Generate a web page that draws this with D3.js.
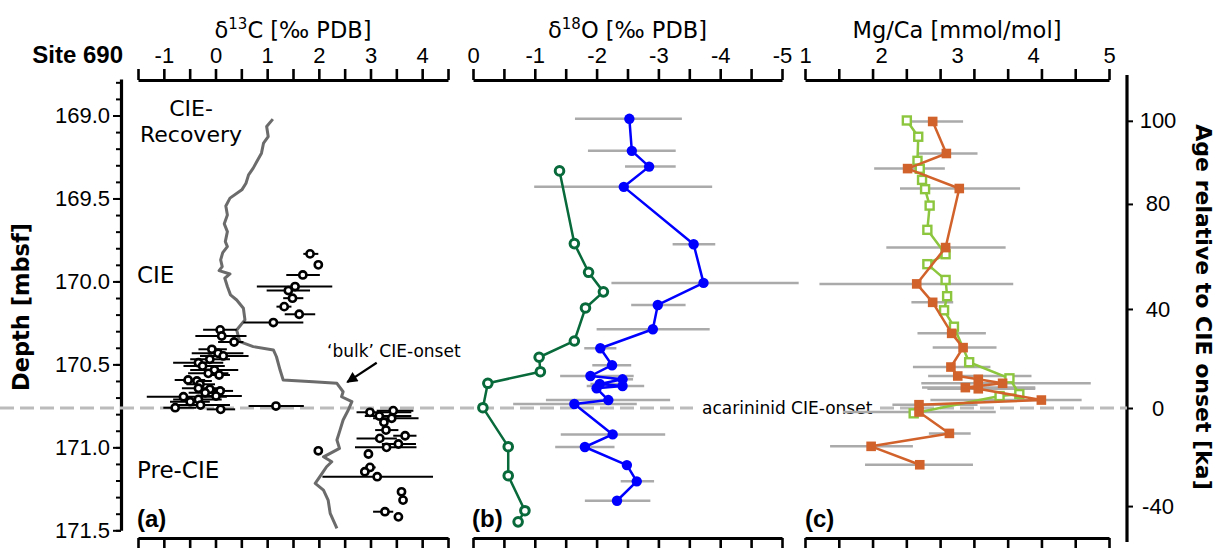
<!DOCTYPE html>
<html>
<head>
<meta charset="utf-8">
<script src="https://cdn.jsdelivr.net/npm/d3@7"></script>
<style>
  body { margin: 0; background: #fff; }
  text { font-family: "DejaVu Sans", sans-serif; fill: #000; }
  .tick text { font-family: "Liberation Sans", Arial, sans-serif; font-size: 22px; }
  .bold { font-family: "Liberation Sans", Arial, sans-serif; font-weight: bold; }
</style>
</head>
<body>
<svg id="chart" width="1219" height="548"></svg>
<script>
// ---- data ----
// (a) bulk carbonate d13C, grey line
const bulkDepth = [169.022,169.066,169.127,169.166,169.227,169.277,169.317,169.358,169.408,169.448,
  169.498,169.545,169.599,169.653,169.700,169.760,169.790,169.826,169.870,169.911,169.935,169.955,169.981,
  170.031,170.081,170.112,170.162,170.232,170.293,170.363,170.393,170.413,170.454,170.534,170.594,170.604,
  170.614,170.665,170.695,170.725,170.775,170.835,170.896,170.956,171.006,171.036,171.057,171.087,171.117,
  171.177,171.217,171.258,171.318,171.398,171.489];
const bulkD13C = [1.11,0.99,1.02,0.93,0.89,0.80,0.73,0.64,0.59,0.51,
  0.28,0.20,0.23,0.17,0.23,0.19,0.23,0.14,0.10,0.13,0.07,0.28,0.18,
  0.23,0.29,0.41,0.54,0.57,0.41,0.47,0.73,1.12,1.18,1.25,1.31,1.89,
  2.35,2.47,2.44,2.64,2.57,2.47,2.41,2.35,2.40,2.22,2.09,2.25,2.15,
  2.02,1.93,2.09,2.18,2.22,2.35];

// (a) single-specimen d13C, open black circles with 1 sd bars
const plankDepth = [169.834,169.900,169.961,170.031,170.055,170.101,170.152,170.198,170.248,170.292,
  170.329,170.365,170.409,170.433,170.449,170.469,170.490,170.510,170.534,170.554,170.564,170.594,
  170.600,170.620,170.644,170.650,170.660,170.671,170.695,170.691,170.711,170.725,170.745,170.761,
  170.771,170.751,170.789,170.779,170.811,170.825,170.849,170.896,170.946,170.930,171.000,170.980,
  171.040,171.021,171.121,171.147,171.177,171.268,171.318,171.388,171.419];
const plankD13C = [1.83,1.99,1.69,1.54,1.41,1.49,1.33,1.62,1.12,0.09,
  0.12,0.36,-0.07,0.05,0.15,-0.11,-0.33,-0.25,-0.02,-0.14,0.07,-0.53,
  -0.36,-0.30,-0.33,-0.11,0.09,-0.20,-0.62,0.01,-0.33,-0.49,-0.29,-0.78,
  0.10,1.17,2.99,3.44,3.17,3.41,3.26,3.30,3.18,3.67,3.31,3.54,
  2.96,1.99,2.99,2.89,3.13,3.60,3.63,3.28,3.54];
const plankLo = [1.70,1.93,1.37,0.80,0.99,1.31,1.18,1.34,0.54,-0.24,
  -0.39,0.05,-0.33,-0.46,-0.30,-0.49,-0.82,-0.62,-0.49,-0.53,-0.17,-0.79,
  -0.62,-0.56,-0.65,-0.40,-0.17,-0.52,-1.33,-0.30,-0.82,-0.88,-0.82,-1.01,
  -0.17,0.64,2.73,3.12,2.89,3.05,null,3.09,2.73,3.44,2.70,3.22,
  null,null,2.90,2.80,2.07,null,null,3.05,null];
const plankHi = [1.99,2.08,2.02,2.26,1.83,1.70,1.47,1.93,1.70,0.41,
  0.60,0.54,0.22,0.54,0.64,0.28,0.15,0.18,0.44,0.25,0.28,-0.20,
  -0.07,-0.01,0.05,0.18,0.34,0.12,0.22,0.51,0.12,-0.11,0.28,-0.37,
  0.38,1.71,3.79,3.83,3.79,3.93,null,3.54,3.51,3.89,3.89,3.88,
  null,null,3.10,2.98,4.21,null,null,3.44,null];

// (b) acarininid d18O (blue) with bars, benthic d18O (dark green)
const acarDepth = [169.020,169.213,169.308,169.430,169.776,170.009,170.142,170.288,170.403,170.505,
  170.570,170.590,170.618,170.630,170.644,170.715,170.739,170.922,170.998,171.107,171.205,171.322];
const acarD18O = [-2.53,-2.57,-2.85,-2.44,-3.57,-3.73,-2.99,-2.91,-2.06,-2.25,
  -1.90,-2.42,-2.05,-2.42,-2.00,-2.19,-1.64,-2.26,-1.81,-2.49,-2.65,-2.33];
const acarLo = [-1.65,-1.86,-2.46,-0.99,-3.23,-2.24,-2.56,-2.00,-1.80,-1.93,
  -1.41,-2.24,-1.90,-1.84,null,-1.18,-0.65,-1.42,-1.33,null,-2.39,-1.81];
const acarHi = [-3.38,-3.28,-3.28,-3.87,-3.92,-5.27,-3.44,-3.83,-2.32,-2.56,
  -2.60,-2.59,-2.40,-2.77,null,-3.19,-2.65,-3.11,-2.29,null,-2.93,-2.87];
const benthDepth = [169.334,169.772,169.945,170.063,170.160,170.359,170.457,170.544,170.614,170.761,
  170.996,171.171,171.382,171.449];
const benthD18O = [-1.40,-1.64,-1.87,-2.11,-1.82,-1.64,-1.07,-1.09,-0.24,-0.16,
  -0.57,-0.57,-0.84,-0.73];

// (c) Mg/Ca, orange with bars and light green
const mgDepth = [169.036,169.229,169.320,169.440,169.796,170.015,170.126,170.313,170.399,170.516,
  170.570,170.590,170.614,170.640,170.647,170.715,170.743,170.787,170.916,170.994,171.105];
const mgCa = [2.68,2.86,2.35,3.03,2.85,2.47,2.68,2.93,3.08,2.92,
  3.01,3.28,3.60,3.11,3.28,4.11,2.50,2.50,2.90,1.87,2.51];
const mgLo = [2.38,2.48,1.91,2.25,2.07,1.19,2.40,2.48,2.68,2.42,
  2.62,null,2.53,2.54,2.61,2.65,2.15,1.50,2.63,1.33,1.79];
const mgHi = [3.08,3.27,2.84,3.83,3.64,3.74,2.95,3.38,3.52,3.44,
  3.98,null,4.76,4.03,4.03,4.64,3.27,3.51,3.18,2.42,3.21];
const mg2Depth = [169.030,169.128,169.273,169.321,169.388,169.444,169.543,169.689,169.836,169.896,
  169.991,170.089,170.174,170.273,170.487,170.584,170.679,170.691,170.795];
const mg2Ca = [2.34,2.49,2.48,2.51,2.54,2.58,2.64,2.61,2.85,2.61,
  2.85,2.87,2.83,2.96,3.16,3.69,3.82,3.56,2.43];

// axes
const depthTicks = [169.0, 169.5, 170.0, 170.5, 171.0, 171.5];
const depthMinor = d3.range(1688, 1716).map(d => d / 10);
const ageTicks = [100, 80, 40, 0, -40];
const ageTieDepth = [169.032, 169.533, 170.166, 170.763, 171.354];
const onsetDepth = 170.763;
const aTicks = d3.range(-1.5, 4.51, 0.5), aLabels = [-1, 0, 1, 2, 3, 4];
const bTicks = d3.range(0, -5.01, -0.5), bLabels = [0, -1, -2, -3, -4, -5];
const cTicks = d3.range(10).map(i => 1 + i * 4 / 9), cLabels = [1, 2, 3, 4, 5];

const svg = d3.select("#chart");

const xA = d3.scaleLinear().domain([-1.5, 4.5]).range([138, 448]);
const xB = d3.scaleLinear().domain([0, -5]).range([473, 782]);
const xC = d3.scaleLinear().domain([1, 5]).range([805, 1109]);
const y = d3.scaleLinear().domain([168.78, 171.5]).range([79, 530.3]);
const yAge = d3.scaleLinear().domain(ageTicks).range(ageTieDepth.map(y));

const topY = 80, botY = 538;

function styleAxis(g, w) {
    g.select(".domain").attr("stroke-width", 3.2);
    g.selectAll(".tick line").attr("stroke-width", w);
}

function xAxes(scale, ticks, labels, title, sup, rest) {
    svg.append("g").attr("transform", `translate(0,${topY})`)
        .call(d3.axisTop(scale).tickValues(ticks).tickSize(11).tickSizeOuter(0).tickFormat(""))
        .call(g => styleAxis(g, 2.6));
    svg.append("g").attr("transform", `translate(0,${topY})`)
        .call(d3.axisTop(scale).tickValues(labels).tickSize(0).tickPadding(17).tickFormat(d => String(d)))
        .call(g => g.select(".domain").remove());
    svg.append("g").attr("transform", `translate(0,${botY})`)
        .call(d3.axisBottom(scale).tickValues(ticks).tickSize(11).tickSizeOuter(0).tickFormat(""))
        .call(g => styleAxis(g, 2.6));

    let r = scale.range();
    let t = svg.append("text").attr("x", (r[0] + r[1]) / 2).attr("y", 38)
        .attr("text-anchor", "middle").style("font-size", "22.5px");
    t.append("tspan").text(title);
    if (sup) {
        t.append("tspan").attr("dy", -9).style("font-size", "15px").text(sup);
        t.append("tspan").attr("dy", 9).text(rest);
    }
}

xAxes(xA, aTicks, aLabels, "δ", "13", "C [‰ PDB]");
xAxes(xB, bTicks, bLabels, "δ", "18", "O [‰ PDB]");
xAxes(xC, cTicks, cLabels, "Mg/Ca [mmol/mol]");

// depth axis
svg.append("g").attr("transform", "translate(121,0)")
    .call(d3.axisLeft(y).tickValues(depthMinor).tickSize(5).tickSizeOuter(0).tickFormat(""))
    .call(g => styleAxis(g, 2));
svg.append("g").attr("transform", "translate(121,0)")
    .call(d3.axisLeft(y).tickValues(depthTicks).tickSize(8).tickPadding(3).tickFormat(d3.format(".1f")))
    .call(g => g.select(".domain").remove())
    .call(g => g.selectAll(".tick line").attr("stroke-width", 2));

// age axis
svg.append("line").attr("x1", 1127).attr("x2", 1127).attr("y1", 75).attr("y2", 542)
    .attr("stroke", "#000").attr("stroke-width", 3.2);
svg.append("g").attr("transform", "translate(1127,0)")
    .call(d3.axisRight(yAge).tickValues(ageTicks).tickSize(6).tickPadding(0).tickSizeOuter(0)
        .tickFormat(d => String(d)))
    .call(g => g.select(".domain").remove())
    .call(g => g.selectAll(".tick line").attr("stroke-width", 2))
    .call(g => g.selectAll(".tick text").attr("text-anchor", "middle").attr("x", 31));

svg.append("text").attr("class", "bold").attr("x", 123).attr("y", 63)
    .attr("text-anchor", "end").style("font-size", "24px").text("Site 690");
svg.append("text").attr("transform", "translate(29,307) rotate(-90)")
    .attr("text-anchor", "middle").style("font-size", "22.5px").style("font-weight", "bold")
    .text("Depth [mbsf]");
svg.append("text").attr("transform", "translate(1196,307) rotate(90)")
    .attr("text-anchor", "middle").style("font-size", "22px").style("font-weight", "bold")
    .text("Age relative to CIE onset [ka]");

// CIE onset line (dashed), broken under the acarininid label
svg.append("line").attr("x1", 0).attr("x2", 1127)
    .attr("y1", y(onsetDepth)).attr("y2", y(onsetDepth))
    .attr("stroke", "#bbb").attr("stroke-width", 3).attr("stroke-dasharray", "14,6");
let gap = svg.append("rect").attr("fill", "#fff");
let onsetLabel = svg.append("text").attr("x", 702).attr("y", y(onsetDepth) + 6)
    .style("font-size", "17px").text("acarininid CIE-onset");
let bb = onsetLabel.node().getBBox();
gap.attr("x", bb.x - 9).attr("y", y(onsetDepth) - 3)
    .attr("width", bb.width + 15).attr("height", 6);

const idx = n => d3.range(n);

function bars(depth, lo, hi, x, color, w) {
    svg.append("g").selectAll("line")
        .data(idx(depth.length).filter(i => lo[i] != null))
        .join("line")
        .attr("x1", i => x(lo[i])).attr("x2", i => x(hi[i]))
        .attr("y1", i => y(depth[i])).attr("y2", i => y(depth[i]))
        .attr("stroke", color).attr("stroke-width", w);
}

function path(depth, vals, x, color, w) {
    svg.append("path")
        .datum(idx(depth.length))
        .attr("d", d3.line().x(i => x(vals[i])).y(i => y(depth[i])))
        .attr("fill", "none").attr("stroke", color).attr("stroke-width", w)
        .attr("stroke-linejoin", "round");
}

// ---- (a) ----
path(bulkDepth, bulkD13C, xA, "#6b6b6b", 3);
bars(plankDepth, plankLo, plankHi, xA, "#000", 2);
svg.append("g").selectAll("circle").data(idx(plankDepth.length)).join("circle")
    .attr("cx", i => xA(plankD13C[i])).attr("cy", i => y(plankDepth[i])).attr("r", 3.6)
    .attr("fill", "#fff").attr("stroke", "#000").attr("stroke-width", 2.6);

// 'bulk' onset arrow
svg.append("defs").append("marker").attr("id", "head")
    .attr("viewBox", "0 0 10 10").attr("refX", 9).attr("refY", 5)
    .attr("markerWidth", 6).attr("markerHeight", 5).attr("orient", "auto")
    .append("path").attr("d", "M0,0L10,5L0,10Z").attr("fill", "#000");
svg.append("line")
    .attr("x1", xA(3.12)).attr("y1", y(170.49))
    .attr("x2", xA(2.55)).attr("y2", y(170.607))
    .attr("stroke", "#000").attr("stroke-width", 2.2).attr("marker-end", "url(#head)");

svg.append("text").attr("x", 327).attr("y", 357).style("font-size", "17px").text("‘bulk’ CIE-onset");
svg.append("text").attr("x", 191).attr("y", 116).attr("text-anchor", "middle").style("font-size", "22px").text("CIE-");
svg.append("text").attr("x", 191).attr("y", 142).attr("text-anchor", "middle").style("font-size", "22px").text("Recovery");
svg.append("text").attr("x", 137).attr("y", 283).style("font-size", "23px").text("CIE");
svg.append("text").attr("x", 137).attr("y", 478).style("font-size", "23px").text("Pre-CIE");

// ---- (b) ----
bars(acarDepth, acarLo, acarHi, xB, "#aaa", 2.5);
path(acarDepth, acarD18O, xB, "#0000ff", 2.5);
svg.append("g").selectAll("circle").data(idx(acarDepth.length)).join("circle")
    .attr("cx", i => xB(acarD18O[i])).attr("cy", i => y(acarDepth[i])).attr("r", 5.2)
    .attr("fill", "#0000ff");
path(benthDepth, benthD18O, xB, "#08693a", 2.5);
svg.append("g").selectAll("circle").data(idx(benthDepth.length)).join("circle")
    .attr("cx", i => xB(benthD18O[i])).attr("cy", i => y(benthDepth[i])).attr("r", 4.3)
    .attr("fill", "#fff").attr("stroke", "#08693a").attr("stroke-width", 3);

// ---- (c) ----
bars(mgDepth, mgLo, mgHi, xC, "#aaa", 2.5);
path(mg2Depth, mg2Ca, xC, "#8cc63e", 2.5);
svg.append("g").selectAll("rect").data(idx(mg2Depth.length)).join("rect")
    .attr("x", i => xC(mg2Ca[i]) - 4).attr("y", i => y(mg2Depth[i]) - 4)
    .attr("width", 8).attr("height", 8)
    .attr("fill", "#fff").attr("stroke", "#8cc63e").attr("stroke-width", 2.4);
path(mgDepth, mgCa, xC, "#d2622b", 2.5);
svg.append("g").selectAll("rect").data(idx(mgDepth.length)).join("rect")
    .attr("x", i => xC(mgCa[i]) - 4.8).attr("y", i => y(mgDepth[i]) - 4.8)
    .attr("width", 9.6).attr("height", 9.6).attr("fill", "#d2622b");

// panel letters
[["(a)", 137], ["(b)", 472], ["(c)", 805]].forEach(([t, x]) => {
    svg.append("text").attr("class", "bold").attr("x", x).attr("y", 527)
        .style("font-size", "24px").text(t);
});
</script>
</body>
</html>
